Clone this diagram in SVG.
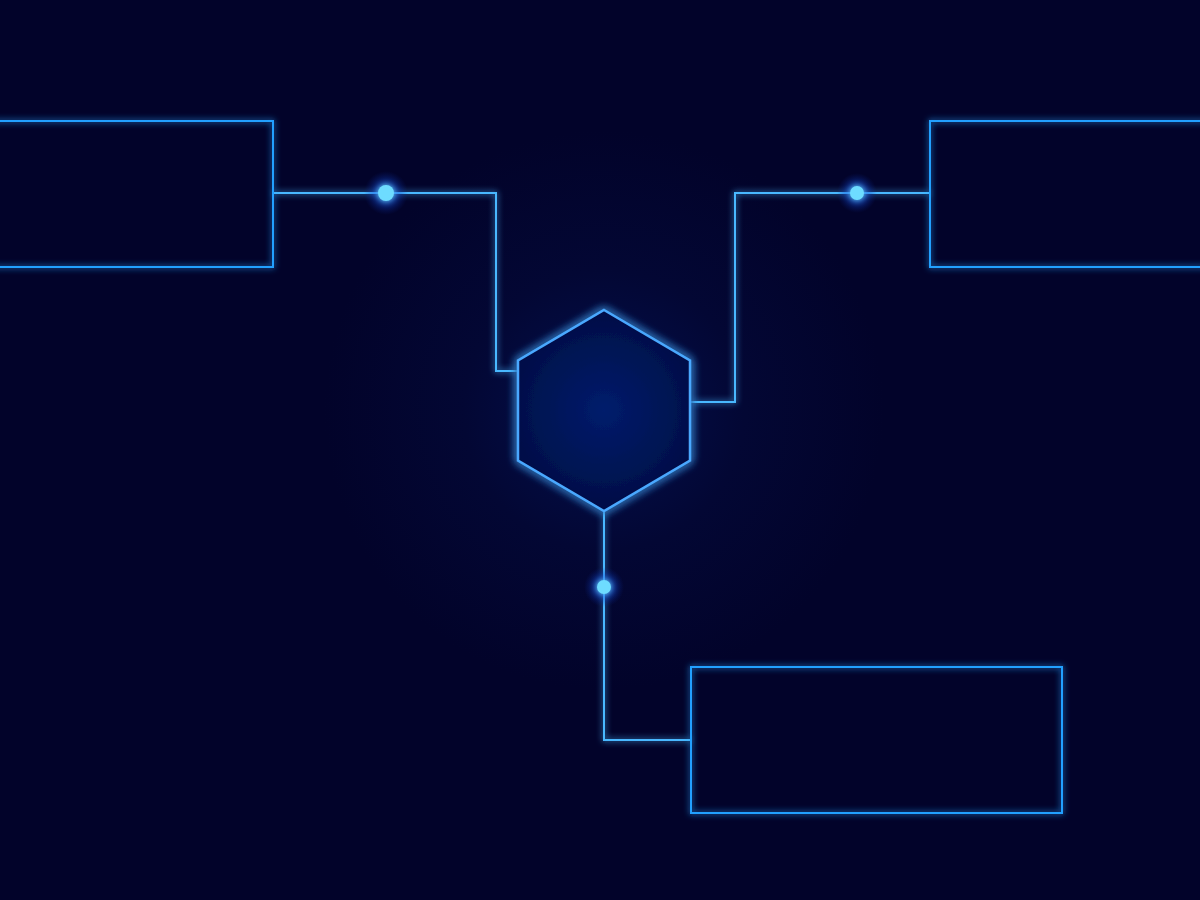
<svg xmlns="http://www.w3.org/2000/svg" width="1200" height="900" viewBox="0 0 1200 900">
  <defs>
    <radialGradient id="bgGlow" cx="604" cy="410" r="280" gradientUnits="userSpaceOnUse">
      <stop offset="0" stop-color="#03104e"/>
      <stop offset="0.5" stop-color="#030734"/>
      <stop offset="1" stop-color="#02032a"/>
    </radialGradient>
    <radialGradient id="hexFill" cx="604" cy="410" r="100" gradientUnits="userSpaceOnUse">
      <stop offset="0" stop-color="#051c6c"/>
      <stop offset="1" stop-color="#030e46"/>
    </radialGradient>
    <radialGradient id="halo">
      <stop offset="0" stop-color="#2a7cff" stop-opacity="0.9"/>
      <stop offset="0.5" stop-color="#1450e0" stop-opacity="0.45"/>
      <stop offset="1" stop-color="#0a2a9a" stop-opacity="0"/>
    </radialGradient>
    <filter id="glow" x="-50%" y="-50%" width="200%" height="200%">
      <feGaussianBlur in="SourceGraphic" stdDeviation="3" result="b"/>
      <feMerge><feMergeNode in="b"/><feMergeNode in="SourceGraphic"/></feMerge>
    </filter>
    <filter id="glowBig" x="-50%" y="-50%" width="200%" height="200%">
      <feGaussianBlur in="SourceGraphic" stdDeviation="5" result="b"/>
      <feMerge><feMergeNode in="b"/><feMergeNode in="b"/><feMergeNode in="SourceGraphic"/></feMerge>
    </filter>
    <filter id="dotGlow" x="-300%" y="-300%" width="700%" height="700%">
      <feGaussianBlur in="SourceGraphic" stdDeviation="3" result="b"/>
      <feMerge><feMergeNode in="b"/><feMergeNode in="SourceGraphic"/></feMerge>
    </filter>
  </defs>
  <style>
    .box { fill: none; stroke: #22a0ff; stroke-width: 2; }
    .wire { fill: none; stroke: #4ab8ff; stroke-width: 2; }
    .hex { fill: url(#hexFill); stroke: #4aa8ff; stroke-width: 2.5; }
    .dot { fill: #6edcff; }
    .halo { fill: url(#halo); }
  </style>
  <rect x="0" y="0" width="1200" height="900" fill="#02032a"/>
  <rect x="0" y="0" width="1200" height="900" fill="url(#bgGlow)"/>

  <g id="connectors">
    <g filter="url(#glow)">
      <polyline class="wire" points="273,193 496,193 496,371 518,371"/>
      <polyline class="wire" points="930,193 735,193 735,402 690,402"/>
      <polyline class="wire" points="604,511 604,740 691,740"/>
    </g>
    <circle class="halo" cx="386" cy="193" r="22"/>
    <circle class="halo" cx="857" cy="193" r="20"/>
    <circle class="halo" cx="604" cy="587" r="20"/>
    <g filter="url(#dotGlow)">
      <circle class="dot" cx="386" cy="193" r="8"/>
      <circle class="dot" cx="857" cy="193" r="7"/>
      <circle class="dot" cx="604" cy="587" r="7"/>
    </g>
  </g>

  <g id="node-left" filter="url(#glow)">
    <rect class="box" x="-98" y="121" width="371" height="146"/>
  </g>
  <g id="node-right" filter="url(#glow)">
    <rect class="box" x="930" y="121" width="371" height="146"/>
  </g>
  <g id="node-bottom" filter="url(#glow)">
    <rect class="box" x="691" y="667" width="371" height="146"/>
  </g>
  <g id="node-hub" filter="url(#glowBig)">
    <polygon class="hex" points="604,310 690,360.5 690,460.5 604,511 518,460.5 518,360.5"/>
  </g>
</svg>
